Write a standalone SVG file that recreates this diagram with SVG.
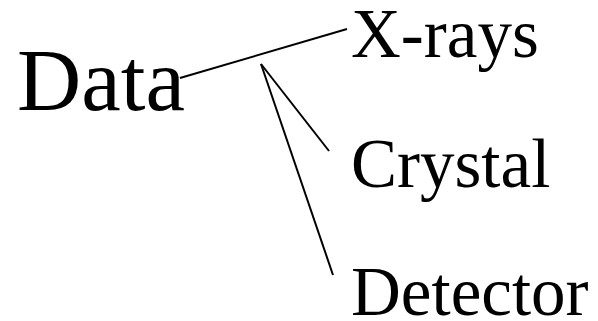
<svg xmlns="http://www.w3.org/2000/svg" width="598" height="321" viewBox="0 0 598 321">
<style>
text{font-family:"Liberation Serif","Times New Roman",serif;fill:#000}
.big{font-size:89px}
.lbl{font-size:69px}
.c{stroke:#000;stroke-width:2;fill:none}
</style>
<rect width="598" height="321" fill="#fff"/>
<g id="data"><text class="big" x="17" y="110">Data</text></g>
<g id="xrays"><text class="lbl" x="351" y="57">X-rays</text></g>
<g id="crystal"><text class="lbl" x="351" y="187">Crystal</text></g>
<g id="detector"><text class="lbl" x="351" y="315">Detector</text></g>
<g id="connectors">
<line class="c" x1="180" y1="78" x2="347" y2="29"/>
<line class="c" x1="261" y1="64" x2="329" y2="151"/>
<line class="c" x1="261" y1="64" x2="333" y2="275"/>
</g>
</svg>
